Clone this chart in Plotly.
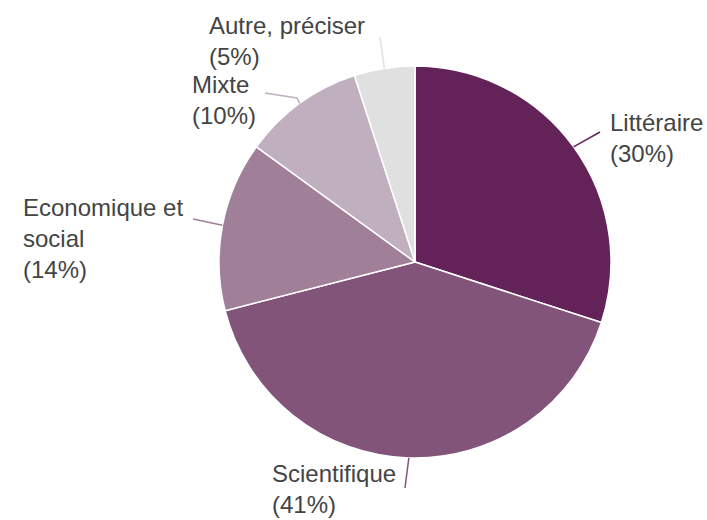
import math
import plotly.graph_objects as go

# ---- data ----
labels = ["Littéraire", "Scientifique", "Economique et social", "Mixte", "Autre, préciser"]
values = [30, 41, 14, 10, 5]
label_text = ["Littéraire<br>(30%)", "Scientifique<br>(41%)", "Economique et<br>social<br>(14%)",
              "Mixte<br>(10%)", "Autre, préciser<br>(5%)"]
colors = ["#632359", "#82547a", "#a07f98", "#c0afbe", "#e0e0e0"]

# ---- layout constants (screen px) ----
W, H = 707, 520
CX, CY, R = 415, 262, 196
label_pos = [(608, 138), (270, 489), (21, 239), (190, 100), (207, 41)]
line_end = [[(600, 132)], [(405, 488)], [(193, 219)], [(297, 98), (265, 93)], [(380, 37)]]

def px(x, y):
    return x / W, 1 - y / H

x0, y1 = px(CX - R, CY - R)
x1, y0 = px(CX + R, CY + R)
fig = go.Figure(go.Pie(
    labels=labels, values=values, sort=False, direction="clockwise", rotation=0,
    marker=dict(colors=colors, line=dict(color="white", width=1.5)),
    textinfo="none", hoverinfo="label+percent", showlegend=False,
    domain=dict(x=[x0, x1], y=[y0, y1]),
))

total = sum(values)
cum = 0
shapes, annotations = [], []
for i, v in enumerate(values):
    mid = (cum + v / 2) / total * 2 * math.pi
    cum += v
    sx, sy = CX + R * math.sin(mid), CY - R * math.cos(mid)
    pts = [(sx, sy)] + line_end[i]
    path = "M " + " L ".join(f"{px(x, y)[0]:.5f},{px(x, y)[1]:.5f}" for x, y in pts)
    shapes.append(dict(type="path", path=path, xref="paper", yref="paper",
                       line=dict(color=colors[i], width=1.5)))
    ax, ay = px(*label_pos[i])
    annotations.append(dict(text=label_text[i], x=ax, y=ay, xref="paper", yref="paper",
                            xanchor="left", yanchor="middle", align="left", showarrow=False,
                            font=dict(family="Arial, Liberation Sans, sans-serif", size=24, color="#444444")))

fig.update_layout(width=W, height=H, margin=dict(l=0, r=0, t=0, b=0),
                  paper_bgcolor="white", plot_bgcolor="white",
                  shapes=shapes, annotations=annotations)
fig.write_html("out.html", config={"displayModeBar": False},
               post_script="document.body.style.margin='0';document.body.style.overflow='hidden';")
